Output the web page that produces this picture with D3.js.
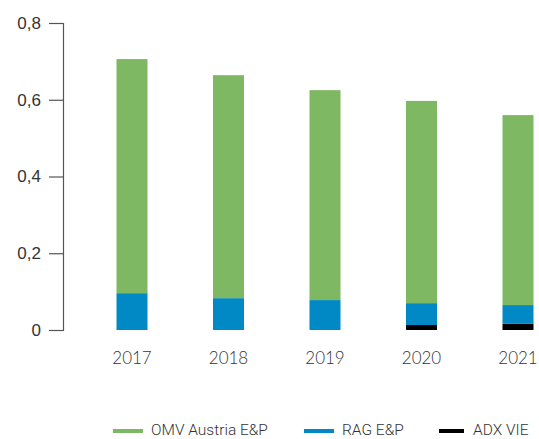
<!DOCTYPE html>
<html>
<head>
<meta charset="utf-8">
<script src="https://cdn.jsdelivr.net/npm/d3@7"></script>
<style>
  body { margin: 0; background: #fff; }
  svg { display: block; font-family: Lato, "Open Sans", sans-serif; }
</style>
</head>
<body>
<div id="chart"></div>
<script>
// chart data
const years = ['2017', '2018', '2019', '2020', '2021'];
const adxVie = [0, 0, 0, 0.013, 0.016];
const ragEP = [0.096, 0.083, 0.078, 0.057, 0.049];
const omvAustria = [0.610, 0.581, 0.547, 0.527, 0.495];
const yTicks = [0, 0.2, 0.4, 0.6, 0.8];

const seriesNames = ['ADX VIE', 'RAG E&P', 'OMV Austria E&P'];
const colors = { 'OMV Austria E&P': '#7fb862', 'RAG E&P': '#0089c4', 'ADX VIE': '#000000' };
const legendOrder = ['OMV Austria E&P', 'RAG E&P', 'ADX VIE'];

const width = 539, height = 439;

const rows = years.map((y, i) => ({
    year: y,
    'ADX VIE': adxVie[i],
    'RAG E&P': ragEP[i],
    'OMV Austria E&P': omvAustria[i]
}));

const svg = d3.select('#chart').append('svg')
    .attr('width', width)
    .attr('height', height);

const x = d3.scalePoint().domain(years).range([132, 518]);
const barW = 31;
const y = d3.scaleLinear().domain([0, 0.8]).range([330, 23]);

// y axis
const yAxis = svg.append('g')
    .attr('transform', 'translate(63,0)')
    .call(d3.axisLeft(y).tickValues(yTicks).tickSize(14).tickPadding(8)
        .tickFormat(d => d === 0 ? '0' : d3.format('.1f')(d).replace('.', ',')));
yAxis.select('.domain').attr('stroke', '#555').attr('stroke-width', 1.2);
yAxis.selectAll('.tick line').attr('stroke', '#555').attr('stroke-width', 1.2);
yAxis.selectAll('.tick text')
    .attr('fill', '#333')
    .style('font-size', '17px')
    .style('font-weight', 300);

// stacked bars
const stack = d3.stack().keys(seriesNames)(rows);
svg.append('g').selectAll('g')
    .data(stack)
    .join('g')
    .attr('fill', d => colors[d.key])
    .selectAll('rect')
    .data(d => d)
    .join('rect')
    .attr('x', d => x(d.data.year) - barW / 2)
    .attr('width', barW)
    .attr('y', d => y(d[1]))
    .attr('height', d => y(d[0]) - y(d[1]));

// year labels
svg.append('g').selectAll('text')
    .data(years)
    .join('text')
    .attr('x', d => x(d))
    .attr('y', 364)
    .attr('text-anchor', 'middle')
    .attr('fill', '#333')
    .style('font-size', '17px')
    .style('font-weight', 300)
    .text(d => d);

// legend
const legendX = [113, 304, 439];
const legend = svg.append('g').selectAll('g')
    .data(legendOrder)
    .join('g')
    .attr('transform', (d, i) => `translate(${legendX[i]},429)`);
legend.append('rect')
    .attr('x', 0).attr('y', 0)
    .attr('width', (d, i) => i === 2 ? 25 : 30)
    .attr('height', 4)
    .attr('fill', d => colors[d]);
legend.append('text')
    .attr('x', (d, i) => i === 2 ? 34 : 38)
    .attr('y', 6)
    .attr('fill', '#333')
    .style('font-family', 'Roboto, sans-serif')
    .style('font-size', '15.5px')
    .style('font-weight', 300)
    .text(d => d);
</script>
</body>
</html>
